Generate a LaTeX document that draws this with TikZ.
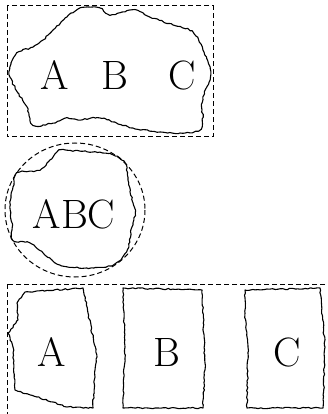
\documentclass[tikz,border=0pt]{standalone}
\usetikzlibrary{decorations.pathmorphing}
\begin{document}
\begin{tikzpicture}[x=1pt,y=-1pt,
  rough/.style={draw, line width=1.1pt, line join=round, decorate,
    decoration={random steps, segment length=2.5pt, amplitude=0.7pt}},
  fitbox/.style={draw, line width=1pt, dash pattern=on 5pt off 3pt},
  letter/.style={font=\fontsize{41}{41}\selectfont, inner sep=0pt}]
\pgfmathsetseed{7}
\useasboundingbox[fill=white] (0,0) rectangle (328,414);
% top group
\draw[fitbox] (7,6) rectangle (213,137);
\draw[rough] plot[smooth cycle, tension=0.55] coordinates {
 (88,7) (100,8) (110,15) (133,10) (150,17) (173,25) (193,32) (203,50)
 (210,67) (210,80) (203,97) (202,110) (203,117) (200,130) (180,133)
 (160,132) (133,128) (100,118) (80,120) (67,118) (53,123) (33,125)
 (27,107) (18,93) (10,77) (10,67) (17,53) (33,47) (43,40) (53,30)
 (67,17) (80,8)};
\node[letter] (a1) at (55,75) {A};
\node[letter] (b1) at (115,75) {B};
\node[letter] (c1) at (182,75) {C};
% middle group
\draw[fitbox] (75,210) ellipse [x radius=70, y radius=67];
\draw[rough] plot[smooth cycle, tension=0.55] coordinates {
 (60,150) (93,152) (113,155) (125,163) (128,180) (133,203) (135,213)
 (132,227) (127,250) (113,265) (87,268) (60,265) (43,253) (30,243)
 (13,240) (12,223) (10,207) (13,187) (17,173) (40,170) (50,160) (57,152)};
\node[letter] (abc) at (74,214) {ABC};
% bottom group
\draw[fitbox] (7,284) rectangle (340,430);
\draw[rough] (25,292) -- (83,288) -- (88,313) -- (97,357) -- (95,370)
  -- (93,408) -- (67,407) -- (37,397) -- (15,390) -- (13,347) -- (8,333)
  -- (18,320) -- (17,303) -- cycle;
\draw[rough] (123,288) -- (202,290) -- (205,363) -- (203,408)
  -- (123,408) -- (125,347) -- cycle;
\draw[rough] (245,290) -- (320,288) -- (325,347) -- (323,408)
  -- (247,408) -- (248,347) -- (245,313) -- cycle;
\node[letter] (a2) at (52,352) {A};
\node[letter] (b2) at (167,352) {B};
\node[letter] (c2) at (287,352) {C};
\end{tikzpicture}
\end{document}
